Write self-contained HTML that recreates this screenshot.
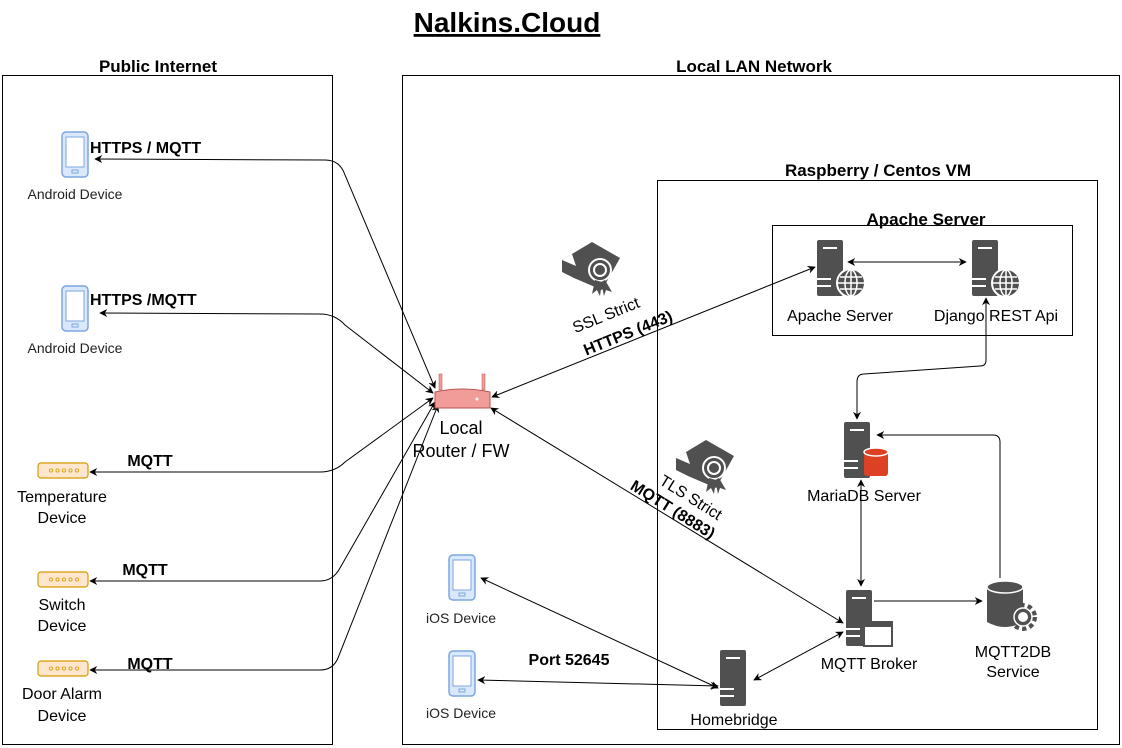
<!DOCTYPE html>
<html><head><meta charset="utf-8"><style>
html,body{margin:0;padding:0;background:#fff}
svg, svg text{font-family:"Liberation Sans",Arial,sans-serif}
svg{display:block}
.b{font-weight:bold}
</style></head><body>
<svg width="1122" height="748" viewBox="0 0 1122 748" xmlns="http://www.w3.org/2000/svg" font-family="Liberation Sans, Arial, sans-serif">
<defs>
<marker id="a" viewBox="0 0 10 10" refX="9" refY="5" markerWidth="8" markerHeight="8" orient="auto-start-reverse" markerUnits="userSpaceOnUse"><path d="M0,0 L10,5 L0,10 L3,5 z" fill="#000"/></marker>
<g id="srv"><rect x="0" y="0" width="26" height="56" rx="2" fill="#505050"/><rect x="6" y="7" width="14" height="2" fill="#fff"/><rect x="0" y="38" width="14" height="2" fill="#fff"/><rect x="0" y="45" width="14" height="2" fill="#fff"/></g>
<g id="globe"><circle r="14" fill="#505050" stroke="#fff" stroke-width="2"/><ellipse rx="6" ry="13" fill="none" stroke="#fff" stroke-width="1.5"/><line x1="-13" y1="0" x2="13" y2="0" stroke="#fff" stroke-width="1.5"/><line x1="0" y1="-13" x2="0" y2="13" stroke="#fff" stroke-width="1.5"/><line x1="-11" y1="-6" x2="11" y2="-6" stroke="#fff" stroke-width="1.5"/><line x1="-11" y1="6" x2="11" y2="6" stroke="#fff" stroke-width="1.5"/></g>
<g id="phone"><rect x="0" y="0" width="26" height="45" rx="4" fill="#dae8fc" stroke="#7ea6e0" stroke-width="1.5"/><rect x="4" y="5" width="18" height="30" fill="#fff" stroke="#7ea6e0"/><rect x="10" y="38" width="6" height="3" fill="none" stroke="#7ea6e0"/></g>
<g id="dev"><rect x="0" y="0" width="50" height="15" rx="3" fill="#ffe6cc" stroke="#d79b00" stroke-width="1.2"/><g fill="none" stroke="#d79b00" stroke-width="0.8"><circle cx="13" cy="7.5" r="1.6"/><circle cx="19.5" cy="7.5" r="1.6"/><circle cx="26" cy="7.5" r="1.6"/><circle cx="32.5" cy="7.5" r="1.6"/><circle cx="39" cy="7.5" r="1.6"/></g></g>
<g id="cert"><path d="M0,18 L30,0 L58,16 L40,48 L12,36 L0,30 Z" fill="#505050"/><path d="M0,18 L10,12 L14,24 Z" fill="#fff"/><circle cx="38" cy="28" r="11" fill="#505050" stroke="#fff" stroke-width="2"/><circle cx="38" cy="28" r="6" fill="#505050" stroke="#fff" stroke-width="2"/><path d="M33,38 L30,52 L35,48 L38,54 L40,40 Z M43,38 L50,50 L44,48 L42,54 L39,40Z" fill="#505050"/></g>
</defs>

<text x="507" y="32" font-size="28" class="b" text-anchor="middle" text-decoration="underline">Nalkins.Cloud</text>

<rect x="2.5" y="75.5" width="330" height="669" fill="none" stroke="#000"/>
<text x="158" y="72" font-size="17" class="b" text-anchor="middle">Public Internet</text>
<rect x="402.5" y="75.5" width="717" height="669" fill="none" stroke="#000"/>
<text x="754" y="72" font-size="17" class="b" text-anchor="middle">Local LAN Network</text>
<rect x="657.5" y="180.5" width="440" height="549" fill="none" stroke="#000"/>
<text x="878" y="176" font-size="17" class="b" text-anchor="middle">Raspberry / Centos VM</text>
<rect x="772.5" y="225.5" width="300" height="110" fill="none" stroke="#000"/>
<text x="926" y="225" font-size="17" class="b" text-anchor="middle">Apache Server</text>

<g fill="none" stroke="#000" stroke-width="1">
<path d="M95,159 L325,160 Q340,160 345,175 L435,388" marker-start="url(#a)" marker-end="url(#a)"/>
<path d="M100,313 L320,314 Q335,314 345,325 L433,393" marker-start="url(#a)" marker-end="url(#a)"/>
<path d="M90,472 L320,472 Q335,472 345,462 L433,398" marker-start="url(#a)" marker-end="url(#a)"/>
<path d="M90,581 L320,581 Q333,581 340,568 L435,402" marker-start="url(#a)" marker-end="url(#a)"/>
<path d="M90,670 L320,670 Q333,670 338,658 L438,405" marker-start="url(#a)" marker-end="url(#a)"/>
<path d="M492,397 L815,267" marker-start="url(#a)" marker-end="url(#a)"/>
<path d="M491,408 L843,623" marker-start="url(#a)" marker-end="url(#a)"/>
<path d="M848,262 L966,262" marker-start="url(#a)" marker-end="url(#a)"/>
<path d="M986,298 L986,360 Q986,366 980,366 L864,374 Q857,374 857,382 L857,419" marker-start="url(#a)" marker-end="url(#a)"/>
<path d="M861,480 L861,586" marker-start="url(#a)" marker-end="url(#a)"/>
<path d="M874,601 L982,601" marker-end="url(#a)"/>
<path d="M1000,578 L1000,442 Q1000,435 993,435 L877,435" marker-end="url(#a)"/>
<path d="M481,578 L718,688" marker-start="url(#a)" marker-end="url(#a)"/>
<path d="M478,680 L718,686" marker-start="url(#a)" marker-end="url(#a)"/>
<path d="M754,680 L843,632" marker-start="url(#a)" marker-end="url(#a)"/>
</g>

<use href="#phone" x="62" y="132"/>
<text x="75" y="199" font-size="14" fill="#222" text-anchor="middle">Android Device</text>
<use href="#phone" x="62" y="286"/>
<text x="75" y="353" font-size="14" fill="#222" text-anchor="middle">Android Device</text>
<use href="#dev" x="38" y="463"/>
<text x="62" y="502" font-size="16" text-anchor="middle">Temperature</text>
<text x="62" y="523" font-size="16" text-anchor="middle">Device</text>
<use href="#dev" x="38" y="572"/>
<text x="62" y="610" font-size="16" text-anchor="middle">Switch</text>
<text x="62" y="631" font-size="16" text-anchor="middle">Device</text>
<use href="#dev" x="38" y="661"/>
<text x="62" y="699" font-size="16" text-anchor="middle">Door Alarm</text>
<text x="62" y="721" font-size="16" text-anchor="middle">Device</text>

<text x="90" y="153" font-size="16" class="b">HTTPS / MQTT</text>
<text x="90" y="305" font-size="16" class="b">HTTPS /MQTT</text>
<text x="150" y="466" font-size="16" class="b" text-anchor="middle">MQTT</text>
<text x="145" y="575" font-size="16" class="b" text-anchor="middle">MQTT</text>
<text x="150" y="669" font-size="16" class="b" text-anchor="middle">MQTT</text>

<g>
<rect x="439" y="374" width="3" height="16" fill="#f19c99" stroke="#b85450" stroke-width="0.5"/>
<rect x="482" y="374" width="3" height="16" fill="#f19c99" stroke="#b85450" stroke-width="0.5"/>
<path d="M435,392 Q462,386 490,392 L490,408 L435,408 Z" fill="#f19c99" stroke="#b85450"/>
<circle cx="477" cy="399" r="1.5" fill="#fff"/>
</g>
<text x="461" y="434" font-size="18" text-anchor="middle">Local</text>
<text x="461" y="457" font-size="18" text-anchor="middle">Router / FW</text>

<use href="#cert" x="562" y="242"/>
<use href="#cert" x="676" y="440"/>
<text transform="translate(608,320) rotate(-22)" font-size="16" text-anchor="middle">SSL Strict</text>
<text transform="translate(630,338) rotate(-22)" font-size="16" class="b" text-anchor="middle">HTTPS (443)</text>
<text transform="translate(688,502) rotate(32)" font-size="16" text-anchor="middle">TLS Strict</text>
<text transform="translate(670,514) rotate(32)" font-size="16" class="b" text-anchor="middle">MQTT (8883)</text>

<use href="#srv" x="817" y="240"/>
<use href="#globe" x="851" y="283"/>
<text x="840" y="321" font-size="16" text-anchor="middle">Apache Server</text>
<use href="#srv" x="972" y="240"/>
<use href="#globe" x="1006" y="283"/>
<text x="996" y="321" font-size="16" text-anchor="middle">Django REST Api</text>

<use href="#srv" x="844" y="422"/>
<g><rect x="864" y="452" width="24" height="24" rx="3" fill="#dd4124"/><ellipse cx="876" cy="452" rx="12" ry="4" fill="#dd4124" stroke="#fff" stroke-width="1.5"/></g>
<text x="864" y="501" font-size="16" text-anchor="middle">MariaDB Server</text>

<use href="#srv" x="846" y="590"/>
<rect x="864" y="622" width="28" height="24" fill="#fff" stroke="#505050" stroke-width="2"/>
<rect x="864" y="622" width="28" height="5" fill="#505050"/>
<text x="869" y="669" font-size="16" text-anchor="middle">MQTT Broker</text>

<g><path d="M987,587 L987,622 Q1005,632 1023,622 L1023,587 Z" fill="#505050"/><ellipse cx="1005" cy="587" rx="18" ry="6" fill="#505050" stroke="#fff" stroke-width="1.5"/>
<circle cx="1023" cy="617" r="11" fill="none" stroke="#505050" stroke-width="6" stroke-dasharray="4 3"/><circle cx="1023" cy="617" r="9" fill="#505050" stroke="#fff" stroke-width="1.5"/><circle cx="1023" cy="617" r="5" fill="#fff"/></g>
<text x="1013" y="657" font-size="16" text-anchor="middle">MQTT2DB</text>
<text x="1013" y="677" font-size="16" text-anchor="middle">Service</text>

<use href="#srv" x="720" y="650"/>
<text x="734" y="725" font-size="16" text-anchor="middle">Homebridge</text>

<use href="#phone" x="449" y="555"/>
<text x="461" y="623" font-size="14" fill="#222" text-anchor="middle">iOS Device</text>
<use href="#phone" x="449" y="651"/>
<text x="461" y="718" font-size="14" fill="#222" text-anchor="middle">iOS Device</text>
<text x="569" y="665" font-size="16" class="b" text-anchor="middle">Port 52645</text>
</svg>
</body></html>
